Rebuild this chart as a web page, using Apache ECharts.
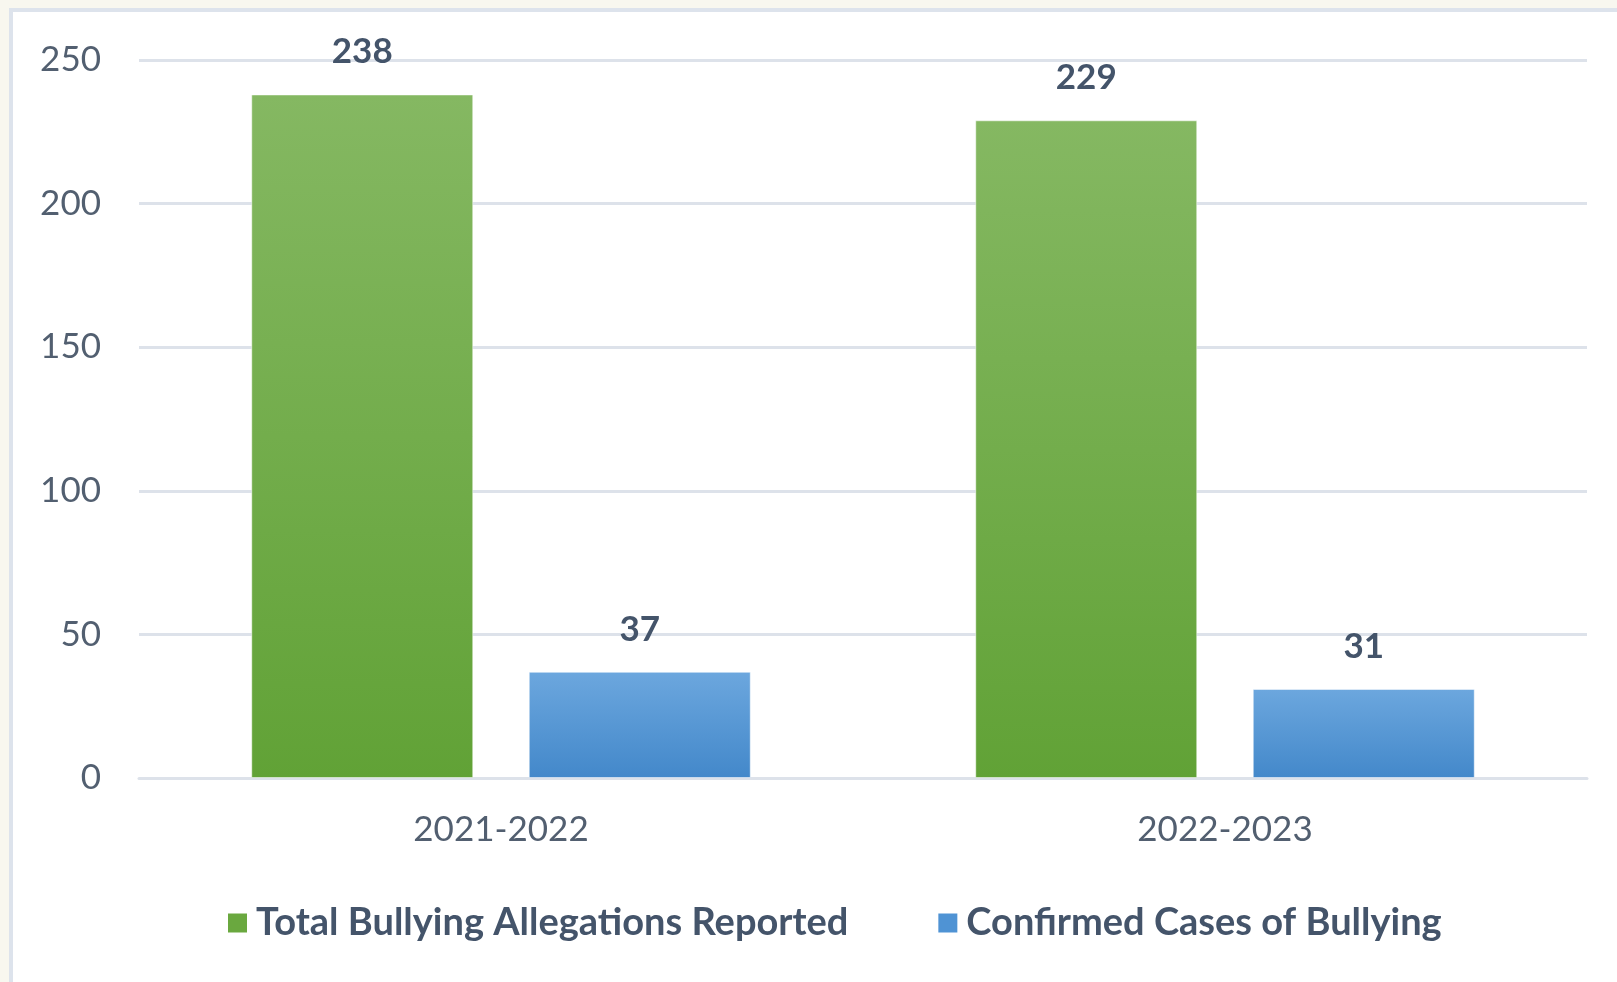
<!DOCTYPE html>
<html>
<head>
<meta charset="utf-8">
<script src="https://cdn.jsdelivr.net/npm/echarts@6/dist/echarts.min.js"></script>
<style>
    html, body { margin: 0; padding: 0; background: #f8f7ef; }
    #panel {
        position: absolute; left: 9px; top: 8px; right: 0; bottom: 0;
        background: #ffffff;
        border-left: 4px solid #dde3ec;
        border-top: 4px solid #dde3ec;
    }
    #chart { position: absolute; left: 0; top: 0; width: 1617px; height: 982px; }
</style>
</head>
<body>
<div id="panel"></div>
<div id="chart"></div>
<script>
    var years = ['2021-2022', '2022-2023'];
    var seriesNames = ['Total Bullying Allegations Reported', 'Confirmed Cases of Bullying'];
    var allegations = [238, 229];
    var confirmed = [37, 31];
    var yTicks = [0, 50, 100, 150, 200, 250];

    var chart = echarts.init(document.getElementById('chart'));

    function grad(top, bottom) {
        return new echarts.graphic.LinearGradient(0, 0, 0, 1, [
            { offset: 0, color: top },
            { offset: 1, color: bottom }
        ]);
    }

    var labelStyle = {
        show: true,
        position: 'top',
        distance: 25,
        fontFamily: 'Lato',
        fontWeight: 'bold',
        fontSize: 35,
        color: '#44546a'
    };

    var option = {
        backgroundColor: 'transparent',
        animation: false,
        color: ['#64a23a', '#4a8fd0'],
        grid: { left: 139, right: 30, top: 60, bottom: 204 },
        legend: {
            data: [
                { name: seriesNames[0], itemStyle: { color: '#6aa83f', borderWidth: 0 } },
                { name: seriesNames[1], itemStyle: { color: '#4f93d4', borderWidth: 0 } }
            ],
            left: 223,
            top: 899,
            itemWidth: 19,
            itemHeight: 19,
            itemGap: 90,
            icon: 'rect',
            textStyle: {
                fontFamily: 'Lato',
                fontWeight: 'bold',
                fontSize: 38,
                color: '#44546a',
                padding: [0, 0, 0, 4]
            }
        },
        xAxis: {
            type: 'category',
            data: years,
            axisLine: { show: true, lineStyle: { color: '#dde2ea', width: 3 } },
            axisTick: { show: false },
            axisLabel: {
                margin: 34,
                fontFamily: 'Lato',
                fontSize: 35,
                color: '#525f70'
            }
        },
        yAxis: {
            type: 'value',
            min: yTicks[0],
            max: yTicks[yTicks.length - 1],
            interval: 50,
            axisLine: { show: false },
            axisTick: { show: false },
            splitLine: { lineStyle: { color: '#dde2ea', width: 3 } },
            axisLabel: {
                margin: 38,
                fontFamily: 'Lato',
                fontSize: 35,
                color: '#525f70'
            }
        },
        series: [{
            name: seriesNames[0],
            type: 'bar',
            data: allegations,
            barWidth: 222,
            barGap: '25%',
            itemStyle: {
                color: grad('#85b862', '#61a236'),
                borderColor: 'rgba(255,255,255,0.5)',
                borderWidth: 1
            },
            label: labelStyle
        }, {
            name: seriesNames[1],
            type: 'bar',
            data: confirmed,
            barWidth: 222,
            itemStyle: {
                color: grad('#6ca7de', '#4388ca'),
                borderColor: 'rgba(255,255,255,0.5)',
                borderWidth: 1
            },
            label: labelStyle
        }]
    };

    chart.setOption(option);
    window.addEventListener('resize', function () {
        chart.resize();
    });
</script>
</body>
</html>
